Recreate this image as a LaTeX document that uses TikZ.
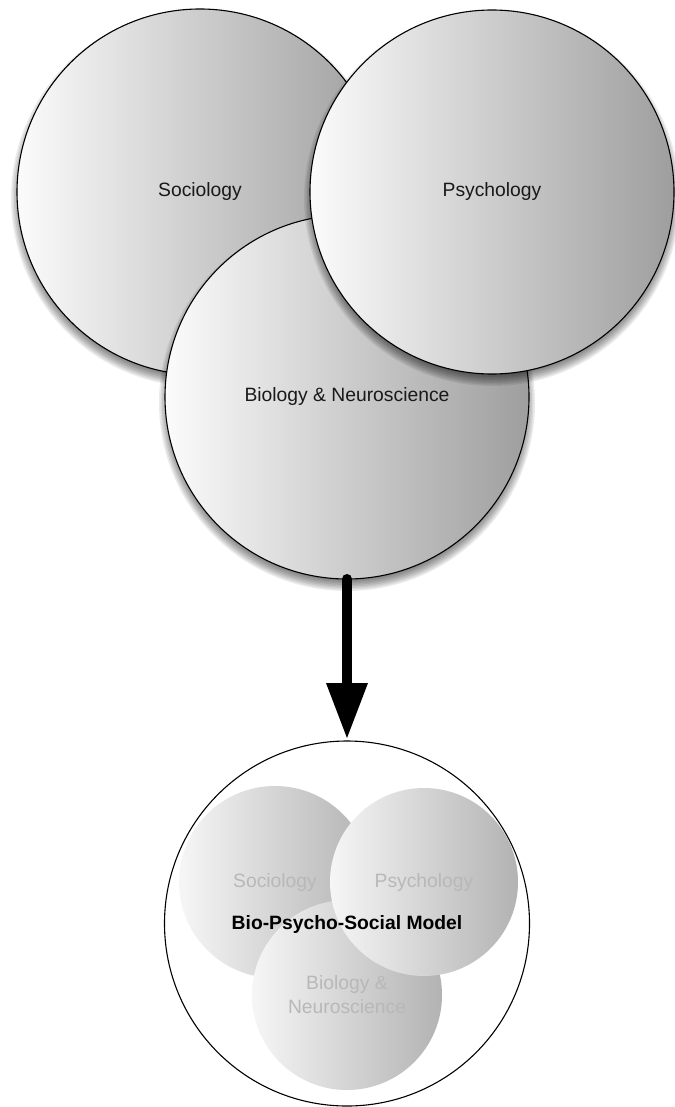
\documentclass[tikz,border=0pt]{standalone}
\usepackage{fontspec}
\setmainfont{Liberation Sans}
\usetikzlibrary{arrows.meta}
\definecolor{shL}{gray}{0.985}
\definecolor{shR}{gray}{0.62}
\definecolor{smL}{gray}{0.965}
\definecolor{smR}{gray}{0.70}
\definecolor{smtext}{gray}{0.72}
\definecolor{toptext}{gray}{0.1}
\newcommand\circshadow[3]{%
  \foreach \i in {0,...,10}{\fill[shadowlayer] (#1,#2+6) circle[radius=#3+6-1.5*\i];}}
\begin{document}
\begin{tikzpicture}[x=1pt,y=-1pt,
  shadowlayer/.style={fill=black, opacity=0.08},
  topc/.style={circle, draw=black, line width=1.1pt, shading=axis,
    left color=shL, right color=shR, inner sep=0pt, outer sep=0pt,
    text=toptext, font=\fontsize{19.3}{24}\selectfont, align=center},
  smallc/.style={circle, shading=axis, left color=smL, right color=smR,
    inner sep=0pt, outer sep=0pt, text=smtext,
    font=\fontsize{19.3}{24}\selectfont, align=center},
  framec/.style={circle, draw=black, line width=1.1pt, fill=white,
    inner sep=0pt, outer sep=0pt},
  bigarrow/.style={line width=10pt, line cap=round,
    -{Triangle[width=42pt,length=55pt,line width=0pt]}, shorten >=3pt}
]
\useasboundingbox (0,0) rectangle (674,1107);

% top three circles
\circshadow{200}{192}{183}
\node[topc, minimum size=366pt] (soc) at (200,192) {Sociology};
\circshadow{347}{397}{182}
\node[topc, minimum size=364pt] (bio) at (347,397) {Biology \& Neuroscience};
\circshadow{492}{192}{182}
\node[topc, minimum size=364pt] (psy) at (492,192) {Psychology};

% result circle
\node[framec, minimum size=365pt] (big) at (347,923.5) {};
\node[smallc, minimum size=192pt] (ssoc) at (275,882) {Sociology};
\node[smallc, minimum size=190pt] (sbio) at (347,995) {Biology \&\\Neuroscience};
\node[smallc, minimum size=188pt] (spsy) at (424,882) {Psychology};
\node[font=\fontsize{19.3}{24}\selectfont\bfseries, text=black, inner sep=0pt] (model) at (347,924) {Bio-Psycho-Social Model};

% arrow
\draw[bigarrow] (bio.south) -- (big.north);
\end{tikzpicture}
\end{document}
